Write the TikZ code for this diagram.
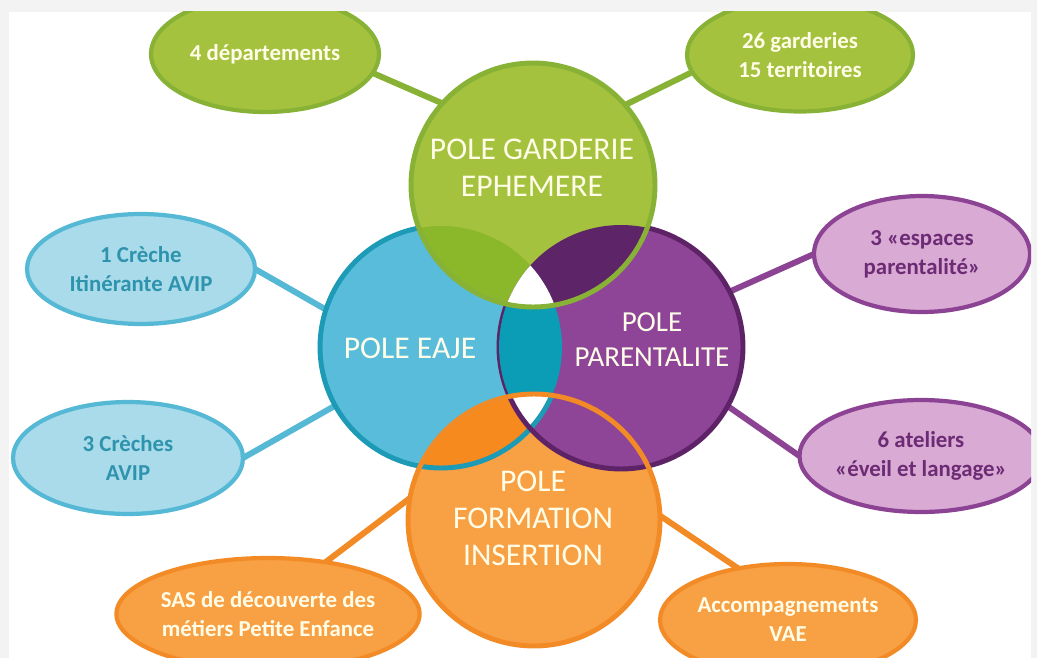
\documentclass[tikz,border=0pt]{standalone}
\usepackage{fontspec}
\setmainfont{Carlito}
\usetikzlibrary{shapes.geometric}

\definecolor{pagegray}{HTML}{F3F3F3}
\definecolor{cream}{HTML}{FFFDE8}
\definecolor{gfill}{HTML}{A4C23E}
\definecolor{gborder}{HTML}{88B236}
\definecolor{gdark}{HTML}{8BB82B}
\definecolor{bfill}{HTML}{58BCDA}
\definecolor{bborder}{HTML}{1C9AB6}
\definecolor{blight}{HTML}{A9DBEA}
\definecolor{bline}{HTML}{55B8D5}
\definecolor{btext}{HTML}{2E93AD}
\definecolor{tealc}{HTML}{0A9DB5}
\definecolor{pfill}{HTML}{8E4597}
\definecolor{pborder}{HTML}{5E2266}
\definecolor{pdark}{HTML}{5E2468}
\definecolor{plight}{HTML}{D8AAD4}
\definecolor{pline}{HTML}{8C4394}
\definecolor{ptext}{HTML}{6C2B74}
\definecolor{ofill}{HTML}{F8A044}
\definecolor{oborder}{HTML}{F28B25}
\definecolor{odark}{HTML}{F68A1F}

\pgfdeclarelayer{bg}
\pgfdeclarelayer{links}
\pgfsetlayers{bg,links,main}

\tikzset{
  pole/.style={circle, inner sep=0pt, outer sep=0pt, minimum size=#1},
  ring/.style={line width=2.8pt},
  bubble/.style={ellipse, draw, line width=2.4pt, inner sep=0pt, outer sep=0pt, align=center,
    font=\fontsize{13}{16.5}\selectfont\bfseries},
  link/.style={line width=3.4pt},
  polelabel/.style={align=center, text=cream, font=\fontsize{18}{21}\selectfont},
}

\begin{document}
\begin{tikzpicture}[x=0.02cm, y=-0.02cm]
	%%% page
	\begin{pgfonlayer}{bg}
		\fill[pagegray] (0,0) rectangle (1037,658);
		\fill[white] (9,12) rectangle (1031,658);
	\end{pgfonlayer}
	\useasboundingbox (0,0) rectangle (1037,658);
	
	\begin{scope}
		\clip (9,12) rectangle (1031,658);
		
		%%% small bubbles
		\node[bubble, draw=gborder, fill=gfill, text=cream, minimum width=4.56cm, minimum height=2.32cm] (dep) at (265,54) {4 départements};
		\node[bubble, draw=gborder, fill=gfill, text=cream, minimum width=4.52cm, minimum height=2.26cm] (terr) at (800,55) {26 garderies\\15 territoires};
		\node[bubble, draw=bline, fill=blight, text=btext, minimum width=4.56cm, minimum height=2.2cm] (itin) at (141,269) {1 Crèche\\Itinérante AVIP};
		\node[bubble, draw=bline, fill=blight, text=btext, minimum width=4.6cm, minimum height=2.24cm] (avip) at (128,458) {3 Crèches\\AVIP};
		\node[bubble, draw=pline, fill=plight, text=ptext, minimum width=4.32cm, minimum height=2.32cm] (espaces) at (922,254) {3 «espaces\\parentalité»};
		\node[bubble, draw=pline, fill=plight, text=ptext, minimum width=4.28cm, minimum height=2.24cm] (ateliers) at (921,456) {6 ateliers\\«éveil et langage»};
		\node[bubble, draw=oborder, fill=ofill, text=cream, minimum width=4.8cm, minimum height=2.24cm] (sas) at (268,614) {SAS de découverte des\\métiers Petite Enfance};
		\node[bubble, draw=oborder, fill=ofill, text=cream, minimum width=4.56cm, minimum height=2.24cm] (vae) at (788,620) {Accompagnements\\VAE};
		
		%%% blue and purple
		\node[pole=4.84cm, fill=bfill] (eaje) at (441,347) {};
		\draw[ring, bborder] (eaje) circle (2.42cm);
		\node[pole=4.88cm, fill=pfill] (parent) at (621,347) {};
		\draw[ring, pborder] (parent) circle (2.44cm);
		\begin{scope}
			\clip (eaje) circle (2.42cm);
			\fill[tealc] (parent) circle (2.44cm);
		\end{scope}
		
		%%% green
		\node[pole=4.88cm, fill=gfill] (garderie) at (533,185) {};
		\begin{scope}
			\clip (garderie) circle (2.44cm);
			\fill[gdark] (eaje) circle (2.42cm);
			\fill[pdark] (parent) circle (2.44cm);
			\clip (eaje) circle (2.42cm);
			\fill[white] (parent) circle (2.44cm);
		\end{scope}
		\draw[ring, gborder] (garderie) circle (2.44cm);
		
		%%% orange
		\node[pole=5.04cm, fill=ofill] (formation) at (534,520) {};
		\begin{scope}
			\clip (formation) circle (2.52cm);
			\fill[odark] (eaje) circle (2.42cm);
			\fill[pfill] (parent) circle (2.44cm);
			\begin{scope}
				\clip (eaje) circle (2.42cm);
				\fill[white] (parent) circle (2.44cm);
			\end{scope}
			\draw[ring, bborder] (eaje) circle (2.42cm);
			\draw[ring, pborder] (parent) circle (2.44cm);
		\end{scope}
		\draw[ring, oborder] (formation) circle (2.52cm);
		
		%%% labels
		\node[polelabel] (garderie-txt) at (532,168) {POLE GARDERIE\\EPHEMERE};
		\node[polelabel] (eaje-txt) at (410,348) {POLE EAJE};
		\node[polelabel, font=\fontsize{16.5}{20}\selectfont] (parent-txt) at (652,340) {POLE\\PARENTALITE};
		\node[polelabel] (formation-txt) at (533,518) {POLE\\FORMATION\\INSERTION};
	\end{scope}
	
	%%% links
	\begin{pgfonlayer}{links}
		\draw[link, gborder] (dep.-10) -- (garderie.138);
		\draw[link, gborder] (terr.189) -- (garderie.41);
		\draw[link, bline] (itin.0) -- (eaje.162);
		\draw[link, bline] (avip.0) -- (eaje.209);
		\draw[link, pline] (espaces.180) -- (parent.27);
		\draw[link, pline] (ateliers.180) -- (parent.-29);
		\draw[link, oborder] (sas.42) -- (formation.170);
		\draw[link, oborder] (vae.134) -- (formation.2);
	\end{pgfonlayer}
\end{tikzpicture}
\end{document}
